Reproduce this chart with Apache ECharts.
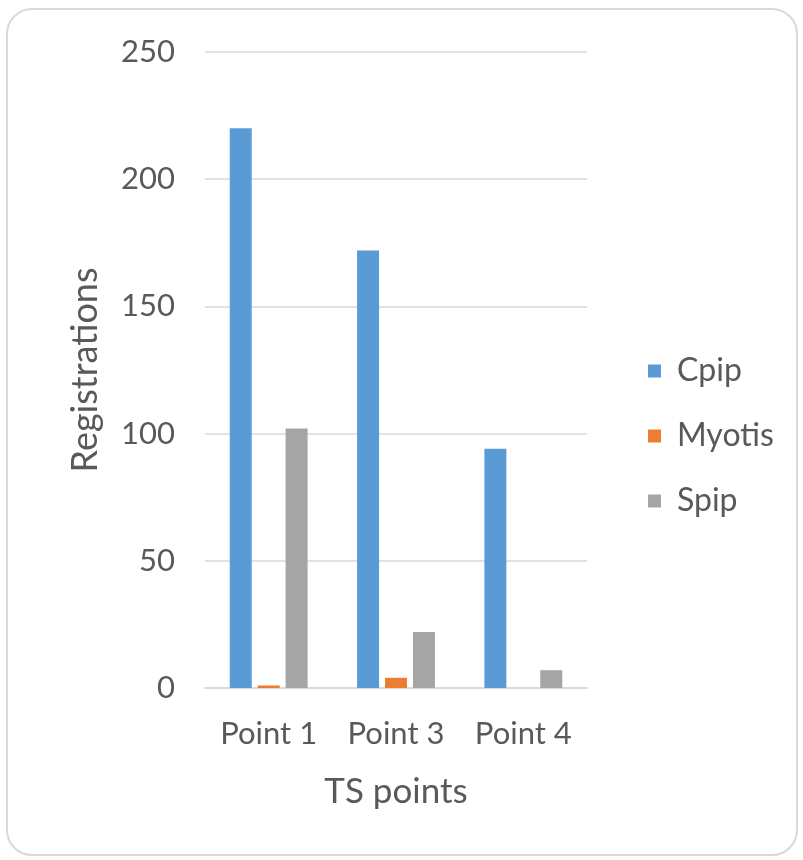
<!DOCTYPE html>
<html>
<head>
<meta charset="utf-8">
<script src="https://cdn.jsdelivr.net/npm/echarts@6/dist/echarts.min.js"></script>
<style>
html,body{margin:0;padding:0;background:#fff;}
#frame{position:absolute;left:6px;top:8px;width:792px;height:848px;border:2px solid #d9d9d9;border-radius:26px;box-sizing:border-box;}
#chart{position:absolute;left:0;top:0;width:803px;height:860px;}
</style>
</head>
<body>
<div id="frame"></div>
<div id="chart"></div>
<script>
const categories = ['Point 1', 'Point 3', 'Point 4'];
const cpip = [220, 172, 94];
const myotis = [1, 4, 0];
const spip = [102, 22, 7];
const yTicks = [0, 50, 100, 150, 200, 250];

const font = 'Lato, "Open Sans", sans-serif';
const chart = echarts.init(document.getElementById('chart'), null, {renderer: 'canvas'});
const barStyle = (c) => ({color: c});
chart.setOption({
  animation: false,
  backgroundColor: 'transparent',
  textStyle: {fontFamily: font},
  grid: {left: 205, right: 216, top: 52, bottom: 172},
  legend: {
    orient: 'vertical', left: 643, top: 349,
    itemWidth: 13, itemHeight: 13, itemGap: 31, icon: 'rect',
    textStyle: {fontSize: 32, lineHeight: 34, color: '#595959', fontFamily: font, padding: [0, 0, 0, 11]},
    data: ['Cpip', 'Myotis', 'Spip']
  },
  xAxis: {
    type: 'category', data: categories,
    name: 'TS points', nameLocation: 'middle', nameGap: 86,
    nameTextStyle: {fontSize: 35, color: '#595959', fontFamily: font},
    axisLine: {lineStyle: {color: '#d9d9d9', width: 1.5}},
    axisTick: {show: false},
    axisLabel: {fontSize: 31, color: '#595959', margin: 30, fontFamily: font}
  },
  yAxis: {
    type: 'value', min: yTicks[0], max: yTicks[yTicks.length-1], interval: 50,
    name: 'Registrations', nameLocation: 'middle', nameGap: 102,
    nameTextStyle: {fontSize: 36, color: '#595959', fontFamily: font},
    axisLine: {show: false}, axisTick: {show: false},
    axisLabel: {fontSize: 31, color: '#595959', margin: 30, fontFamily: font},
    splitLine: {lineStyle: {color: '#d9d9d9', width: 1.5}}
  },
  series: [
    {name: 'Cpip', type: 'bar', data: cpip, barWidth: 22, barGap: '27%', itemStyle: barStyle('#5B9BD5')},
    {name: 'Myotis', type: 'bar', data: myotis, barWidth: 22, barGap: '27%', itemStyle: barStyle('#ED7D31')},
    {name: 'Spip', type: 'bar', data: spip, barWidth: 22, barGap: '27%', itemStyle: barStyle('#A5A5A5')}
  ]
});
</script>
</body>
</html>
